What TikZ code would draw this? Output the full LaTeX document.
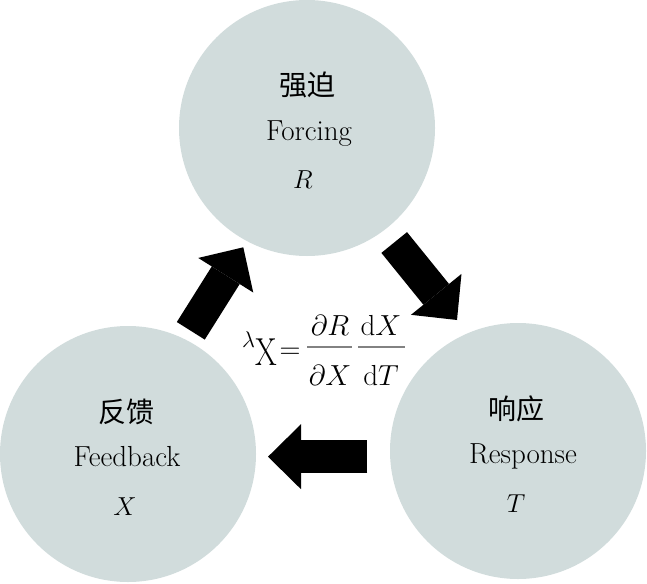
\RequirePackage{fix-cm}
\documentclass[tikz,border=0pt]{standalone}
\usepackage{graphicx}
\usepackage{fontspec}
\newfontfamily\cjk{Noto Sans CJK SC}
\usetikzlibrary{arrows.meta}
\definecolor{circfill}{RGB}{209,220,220}
\definecolor{fracgray}{RGB}{130,130,130}
\begin{document}
\begin{tikzpicture}[x=1pt,y=-1pt,
  bubble/.style={circle,fill=circfill,minimum size=256pt,inner sep=0pt},
  cn/.style={font=\cjk\fontsize{28}{30}\selectfont,inner sep=0pt},
  en/.style={font=\fontsize{29}{31}\selectfont,inner sep=0pt,anchor=base},
  var/.style={font=\fontsize{26}{28}\selectfont,inner sep=0pt,anchor=base},
  fm/.style={font=\fontsize{29}{31}\selectfont,inner sep=0pt,anchor=base},
  blockarrow/.style={line width=33pt,-{Triangle[length=33pt 0 0,width=65pt 0 0,line width=0pt 0 0]}},
  fracbar/.style={draw=fracgray,line width=1.2pt}]
\useasboundingbox (0,0) rectangle (647,583);
\clip (0,0) rectangle (647,583);
% circles
\node[bubble] (forc) at (307,128) {};
\node[bubble] (feed) at (128,454) {};
\node[bubble] (resp) at (518,451) {};
% circle labels
\node[cn] (forcCN) at (307,85) {强迫};
\node[en] (forcEN) at (309,140.5) {Forcing};
\node[var] (forcV) at (303,188.5) {$R$};
\node[cn] (feedCN) at (126,412) {反馈};
\node[en] (feedEN) at (127,466.5) {Feedback};
\node[var] (feedV) at (125,515) {$X$};
\node[cn] (respCN) at (516,409) {响应};
\node[en] (respEN) at (523,463) {Response};
\node[var] (respV) at (516,512) {$T$};
% block arrows
\coordinate (a1s) at (190.8,330.8);
\coordinate (a1e) at (243.3,247.3);
\coordinate (a2s) at (394.2,242.5);
\coordinate (a2e) at (457,320);
\coordinate (a3s) at (367.3,456.7);
\coordinate (a3e) at (268,456.7);
\draw[blockarrow] (a1s) -- (a1e);
\draw[blockarrow] (a2s) -- (a2e);
\draw[blockarrow] (a3s) -- (a3e);
% formula
\node[fm] (lam) at (248.5,347.5) {\scalebox{0.78}{$\lambda$}};
\node[inner sep=0pt,anchor=base] (lx) at (266,365) {\scalebox{0.8}[1]{\fontsize{39}{41}\selectfont X}};
\node[fm] (eq) at (290,358) {$=$};
\node[fm] (num1) at (330,335) {$\partial R$};
\node[fm] (den1) at (330,385) {$\partial X$};
\node[fm] (num2) at (381,335) {$\mathrm{d}X$};
\node[fm] (den2) at (381,385) {$\mathrm{d}T$};
\coordinate (b1l) at (307,347);
\coordinate (b1r) at (352,347);
\coordinate (b2l) at (358,347);
\coordinate (b2r) at (405,347);
\draw[fracbar] (b1l) -- (b1r);
\draw[fracbar] (b2l) -- (b2r);
\end{tikzpicture}
\end{document}
